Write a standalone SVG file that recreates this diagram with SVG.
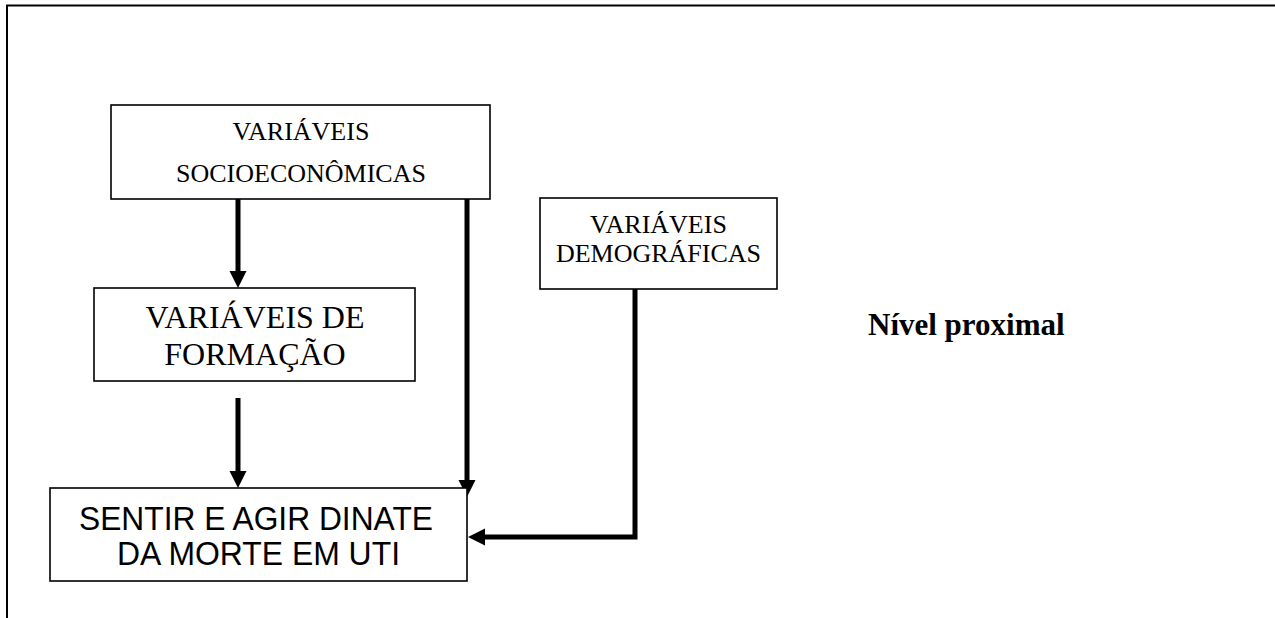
<svg xmlns="http://www.w3.org/2000/svg" width="1275" height="618" viewBox="0 0 1275 618">
<defs>
<style>
.box{fill:#fff;stroke:#000;stroke-width:1.6}
.t{font-family:"Liberation Serif","Times New Roman",serif;fill:#000;text-anchor:middle}
.s{font-family:"Liberation Sans",Arial,sans-serif;fill:#000;text-anchor:middle}
.c{fill:none;stroke:#000;stroke-width:5}
</style>
<marker id="ah" markerUnits="userSpaceOnUse" markerWidth="18" markerHeight="18" refX="0" refY="8.5" orient="auto">
<path d="M0,0 L17,8.5 L0,17 z" fill="#000"/>
</marker>
</defs>
<rect width="1275" height="618" fill="#fff"/>
<g id="frame" fill="none" stroke="#000" stroke-width="2">
<path d="M7,618 V5.5 H1275"/>
</g>
<g id="connectors">
<path class="c" d="M238,199 V271" marker-end="url(#ah)"/>
<path class="c" d="M238,398 V471" marker-end="url(#ah)"/>
<path class="c" d="M467,199 V480" marker-end="url(#ah)"/>
<path class="c" d="M635,289 V537 H485" marker-end="url(#ah)"/>
</g>
<g id="socio">
<rect class="box" x="111" y="105" width="379" height="94"/>
<text class="t" x="301" y="140" font-size="26">VARIÁVEIS</text>
<text class="t" x="301" y="182" font-size="26">SOCIOECONÔMICAS</text>
</g>
<g id="demo">
<rect class="box" x="540" y="198" width="237" height="91"/>
<text class="t" x="658.5" y="233" font-size="26">VARIÁVEIS</text>
<text class="t" x="658.5" y="262" font-size="26">DEMOGRÁFICAS</text>
</g>
<g id="formacao">
<rect class="box" x="94" y="288" width="321" height="93"/>
<text class="t" x="255" y="328" font-size="32">VARIÁVEIS DE</text>
<text class="t" x="255" y="365" font-size="32">FORMAÇÃO</text>
</g>
<g id="sentir">
<rect class="box" x="50" y="488" width="417" height="93"/>
<text class="s" x="256" y="530" font-size="33" textLength="354" lengthAdjust="spacingAndGlyphs">SENTIR E AGIR DINATE</text>
<text class="s" x="258.5" y="565" font-size="33" textLength="283" lengthAdjust="spacingAndGlyphs">DA MORTE EM UTI</text>
</g>
<g id="nivel">
<text x="868" y="335" font-family="'Liberation Serif','Times New Roman',serif" font-weight="bold" font-size="31">Nível proximal</text>
</g>
</svg>
